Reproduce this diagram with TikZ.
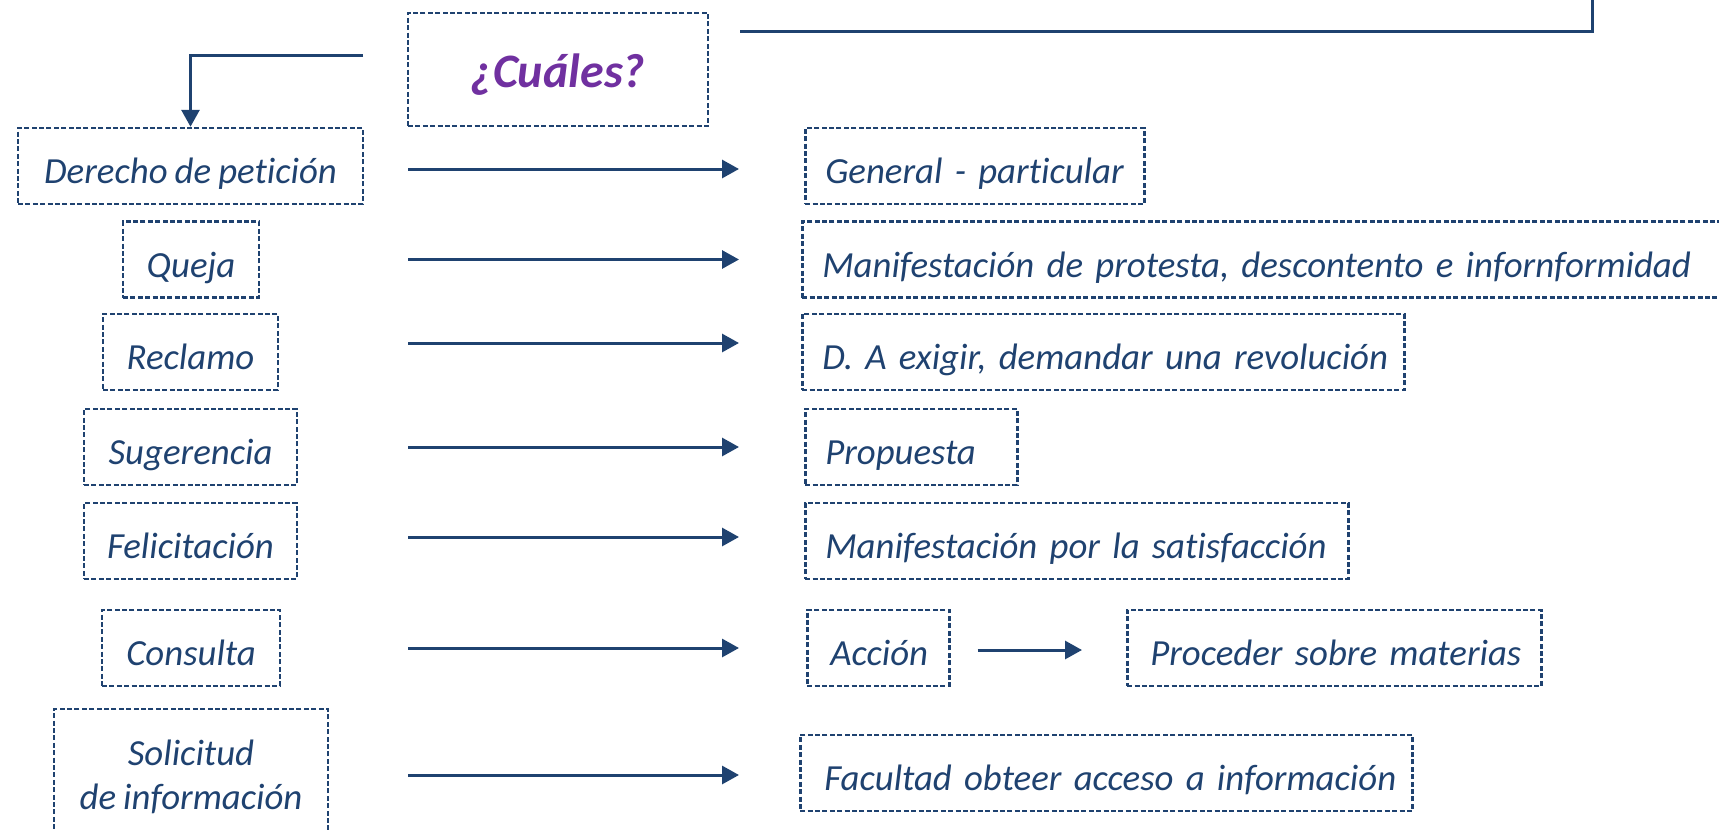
\documentclass[tikz,border=0pt]{standalone}
\usepackage{fontspec}
\setmainfont{Carlito}[Ligatures={NoCommon}, WordSpace=0.85]
\usetikzlibrary{arrows.meta}
\definecolor{navy}{RGB}{31,66,112}
\definecolor{purp}{RGB}{112,48,160}
\begin{document}
\begin{tikzpicture}[x=0.5pt,y=-0.5pt,
  frame/.style={draw=navy, line width=1.25pt, dash pattern=on 2.5pt off 1.2pt, text=navy,
    font=\itshape\fontsize{18.4}{22}\selectfont, inner sep=0pt, minimum height=38pt},
  box/.style={frame, text height=17.5pt, text depth=0pt},
  lbox/.style={box, align=center},
  rbox/.style={box, anchor=west, align=left, inner xsep=10pt},
  arr/.style={draw=navy, line width=1.5pt, -{Triangle[length=8.5pt,width=9pt]}},
  conn/.style={draw=navy, line width=1.5pt}]
\useasboundingbox (0,0) rectangle (1719,830);

% title
\node[frame, minimum width=150pt, minimum height=56.5pt, text=purp,
  text height=18pt, text depth=0pt,
  font=\bfseries\itshape\fontsize{24}{28}\selectfont] (q) at (558,69.5) {¿Cuáles?};

% left column
\node[lbox, minimum width=172.5pt] (l1) at (190.5,166) {Derecho de petición};
\node[lbox, minimum width=68pt]    (l2) at (191,259.5) {Queja};
\node[lbox, minimum width=87.5pt]  (l3) at (190.5,352) {Reclamo};
\node[lbox, minimum width=106.5pt] (l4) at (190.5,447) {Sugerencia};
\node[lbox, minimum width=106.5pt] (l5) at (190.5,541) {Felicitación};
\node[lbox, minimum width=89pt]    (l6) at (191,648) {Consulta};
\node[frame, align=center, minimum width=137pt, minimum height=68pt] (l7) at (191,777) {Solicitud\\de información};

% right column
\node[rbox, text width=149.5pt] (r1) at (804,166) {\mbox{General - particular}};
\node[rbox, text width=444.5pt] (r2) at (801,259.5) {\mbox{Manifestación de protesta, descontento e infornformidad}};
\node[rbox, text width=281pt]   (r3) at (801,352) {\mbox{D. A exigir, demandar una revolución}};
\node[rbox, text width=86pt]    (r4) at (804,447) {\mbox{Propuesta}};
\node[rbox, text width=251.5pt] (r5) at (804,541) {\mbox{Manifestación por la satisfacción}};
\node[rbox, text width=48pt, inner xsep=11.5pt]    (r6) at (806,648) {\mbox{Acción}};
\node[rbox, text width=184pt, inner xsep=11.5pt]   (r6b) at (1126,648) {\mbox{Proceder sobre materias}};
\node[rbox, text width=282pt, inner xsep=12pt]     (r7) at (799,773) {\mbox{Facultad obteer acceso a información}};

% connector ends
\coordinate (xs) at (408,0);
\coordinate (xe) at (739,0);
\coordinate (cl) at (363,55);
\coordinate (t1) at (740,31);
\coordinate (t2) at (1592,31);
\coordinate (t3) at (1592,-5);

\draw[arr] (cl) -| (l1.north);
\draw[conn] (t1) -- (t2) -- (t3);

\draw[arr] ([yshift=-1.5pt]xs |- r1.west) -- ([yshift=-1.5pt]xe |- r1.west);
\draw[arr] (xs |- r2.west) -- (xe |- r2.west);
\draw[arr] ([yshift=4.5pt]xs |- r3.west) -- ([yshift=4.5pt]xe |- r3.west);
\draw[arr] (xs |- r4.west) -- (xe |- r4.west);
\draw[arr] ([yshift=2pt]xs |- r5.west) -- ([yshift=2pt]xe |- r5.west);
\draw[arr] (xs |- r6.west) -- (xe |- r6.west);
\draw[arr] ([yshift=-1pt]xs |- r7.west) -- ([yshift=-1pt]xe |- r7.west);
\draw[arr] ([xshift=13.5pt,yshift=-1pt]r6.east) -- ([xshift=-22pt,yshift=-1pt]r6b.west);
\end{tikzpicture}
\end{document}
